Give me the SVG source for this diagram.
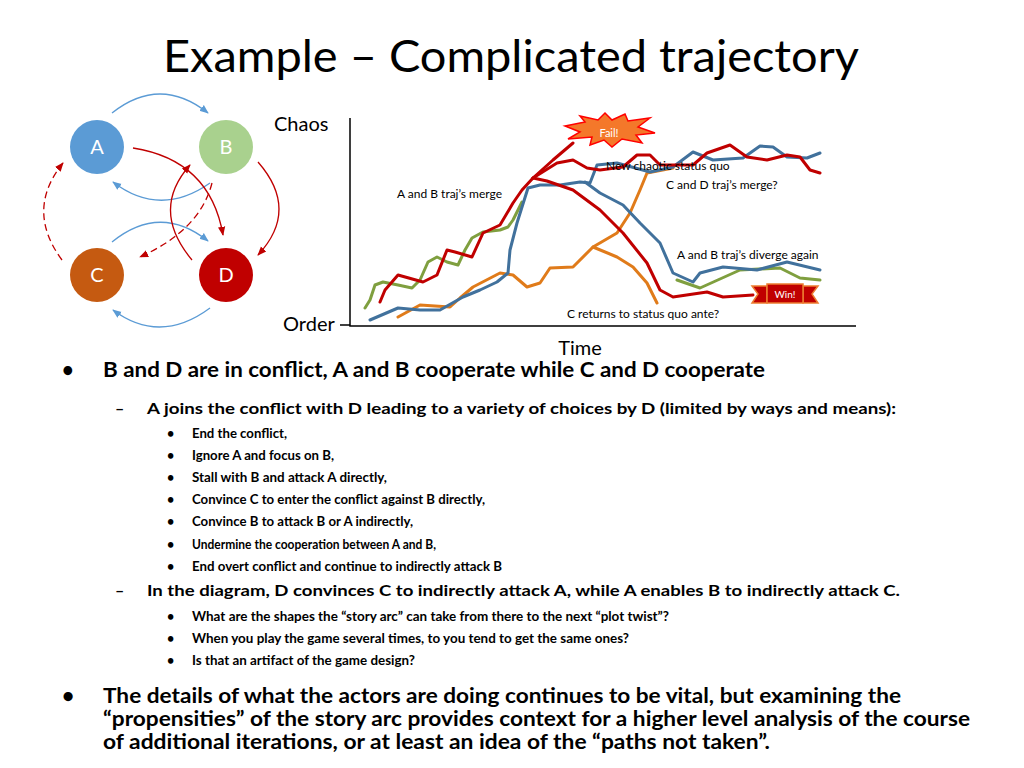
<svg xmlns="http://www.w3.org/2000/svg" width="1024" height="768" viewBox="0 0 1024 768">
<style>
text{font-family:Lato,"Open Sans","Liberation Sans",sans-serif;fill:#000}
.b{font-weight:bold}
.nl{fill:#fff;font-size:20px;text-anchor:middle}
.bl{fill:none;stroke:#5B9BD5;stroke-width:1.3}
.rd{fill:none;stroke:#C00000;stroke-width:1.3}
.ds{stroke-dasharray:7,4}
.cv{fill:none;stroke-width:3;stroke-linejoin:round;stroke-linecap:round}
.lb{font-size:12px}
</style>
<defs>
<marker id="ab" viewBox="0 0 10 10" refX="9" refY="5" markerWidth="7" markerHeight="7" orient="auto"><path d="M0,1L10,5L0,9z" fill="#5B9BD5"/></marker>
<marker id="ar" viewBox="0 0 10 10" refX="9" refY="5" markerWidth="7" markerHeight="7" orient="auto"><path d="M0,1L10,5L0,9z" fill="#C00000"/></marker>
</defs>
<rect width="1024" height="768" fill="#fff"/>
<text x="511" y="72" font-size="44" text-anchor="middle" textLength="696" lengthAdjust="spacingAndGlyphs">Example – Complicated trajectory</text>

<g id="connectors">
<path class="bl" d="M112,113 Q160,75 208,113" marker-end="url(#ab)"/>
<path class="bl" d="M210,183 Q160,218 113,182" marker-end="url(#ab)"/>
<path class="bl" d="M112,242 Q160,203 208,241" marker-end="url(#ab)"/>
<path class="bl" d="M210,308 Q160,345 113,310" marker-end="url(#ab)"/>
<path class="rd" d="M133,148 Q210,160 223,235" marker-end="url(#ar)"/>
<path class="rd" d="M258,162 Q300,210 258,255" marker-end="url(#ar)"/>
<path class="rd" d="M192,260 Q150,210 190,165" marker-end="url(#ar)"/>
<path class="rd ds" d="M62,260 Q25,210 63,163" marker-end="url(#ar)"/>
<path class="rd ds" d="M212,183 Q200,230 140,257" marker-end="url(#ar)"/>
</g>
<g id="node-A"><circle cx="97" cy="147" r="27" fill="#5B9BD5"/><text class="nl" x="97" y="154">A</text></g>
<g id="node-B"><circle cx="226" cy="147" r="27" fill="#A9D18E"/><text class="nl" x="226" y="154">B</text></g>
<g id="node-C"><circle cx="97" cy="275" r="27" fill="#C55A11"/><text class="nl" x="97" y="282">C</text></g>
<g id="node-D"><circle cx="226" cy="275" r="27" fill="#C00000"/><text class="nl" x="226" y="282">D</text></g>

<g id="chart">
<path d="M350,118 V326 H856" fill="none" stroke="#000" stroke-width="1.5"/>
<line x1="340" y1="325" x2="350" y2="325" stroke="#000" stroke-width="1.5"/>
<text x="274" y="131" font-size="20">Chaos</text>
<text x="283" y="331" font-size="20">Order</text>
<text x="580" y="355" font-size="20" text-anchor="middle">Time</text>
<path class="cv" stroke="#7F9F3F" d="M365,308 L370,300 375,285 383,282 398,285 412,288 420,280 428,262 437,257 447,262 458,265 465,250 472,238 483,232 500,230 508,227 513,220 522,202"/>
<path class="cv" stroke="#7F9F3F" d="M677,280 L700,288 740,270 780,268 800,278 820,280"/>
<path class="cv" stroke="#E07B1A" d="M398,317 L420,305 450,307 460,298 473,287 500,273 513,275 527,287 540,283 550,268 573,267 593,247 617,233 630,213 640,190 647,173 673,168"/>
<path class="cv" stroke="#E07B1A" d="M593,247 L617,257 633,267 647,283 657,303"/>
<path class="cv" stroke="#41719C" d="M370,320 L398,308 420,310 440,310 463,297 480,290 497,282 508,273 510,250 517,223 528,188 540,185 560,185 580,182 590,183 597,165 617,163 650,172 673,167 693,152 713,160 743,158 760,146 773,147 787,157 807,158 820,153"/>
<path class="cv" stroke="#41719C" d="M585,182 L600,193 623,205 640,223 660,243 673,273 693,282 700,273 723,267 757,270 787,262 820,270"/>
<path class="cv" stroke="#C00000" d="M380,302 L385,290 398,275 423,282 437,275 447,250 455,252 472,257 483,233 500,225 513,203 522,190 533,178 553,160 573,143"/>
<path class="cv" stroke="#C00000" d="M533,178 L557,163 573,160 587,168 600,170 623,167 637,155 650,155 660,165 693,165 707,153 730,145 747,157 767,160 787,155 800,157 810,170 820,173"/>
<path class="cv" stroke="#C00000" d="M533,178 L547,181 573,190 600,210 623,233 647,263 660,290 673,297 707,292 723,297 753,295"/>
<path d="M565,126 L585,122 580,116 598,120 605,113 612,120 625,114 628,121 650,118 638,127 655,133 636,135 642,143 622,139 612,147 604,140 590,145 592,137 568,139 580,132z" fill="#F4782A" stroke="#FF0000" stroke-width="1.5"/>
<text x="609" y="137" font-size="11" text-anchor="middle" style="fill:#fff">Fail!</text>
<path d="M752,286 L767,286 767,303 752,303 758,294z M818,286 L803,286 803,303 818,303 812,294z" fill="#C00000" stroke="#ED7D31" stroke-width="1.5"/>
<rect x="767" y="284" width="36" height="19" fill="#C00000" stroke="#ED7D31" stroke-width="1.5"/>
<text x="785" y="298" font-size="10" text-anchor="middle" style="fill:#fff">Win!</text>
<text class="lb" x="397" y="198">A and B traj’s merge</text>
<text class="lb" x="606" y="170">New chaotic status quo</text>
<text class="lb" x="666" y="189">C and D traj’s merge?</text>
<text class="lb" x="677" y="259">A and B traj’s diverge again</text>
<text class="lb" x="567" y="318">C returns to status quo ante?</text>
</g>

<g id="text" class="b">
<text x="62" y="377" font-size="20">•</text>
<text x="103" y="377" font-size="20" textLength="662" lengthAdjust="spacingAndGlyphs">B and D are in conflict, A and B cooperate while C and D cooperate</text>
<text x="115" y="414" font-size="16">–</text>
<text x="147" y="414" font-size="16" textLength="749" lengthAdjust="spacingAndGlyphs">A joins the conflict with D leading to a variety of choices by D (limited by ways and means):</text>
<g font-size="12.5">
<text x="167" y="438">•</text><text x="192" y="438" textLength="95" lengthAdjust="spacingAndGlyphs">End the conflict,</text>
<text x="167" y="460">•</text><text x="192" y="460" textLength="142" lengthAdjust="spacingAndGlyphs">Ignore A and focus on B,</text>
<text x="167" y="482">•</text><text x="192" y="482" textLength="195" lengthAdjust="spacingAndGlyphs">Stall with B and attack A directly,</text>
<text x="167" y="504">•</text><text x="192" y="504" textLength="293" lengthAdjust="spacingAndGlyphs">Convince C to enter the conflict against B directly,</text>
<text x="167" y="526">•</text><text x="192" y="526" textLength="221" lengthAdjust="spacingAndGlyphs">Convince B to attack B or A indirectly,</text>
<text x="167" y="549">•</text><text x="192" y="549" textLength="244" lengthAdjust="spacingAndGlyphs">Undermine the cooperation between A and B,</text>
<text x="167" y="571">•</text><text x="192" y="571" textLength="310" lengthAdjust="spacingAndGlyphs">End overt conflict and continue to indirectly attack B</text>
</g>
<text x="115" y="596" font-size="16">–</text>
<text x="147" y="596" font-size="16" textLength="753" lengthAdjust="spacingAndGlyphs">In the diagram, D convinces C to indirectly attack A, while A enables B to indirectly attack C.</text>
<g font-size="12.5">
<text x="167" y="621">•</text><text x="192" y="621" textLength="477" lengthAdjust="spacingAndGlyphs">What are the shapes the “story arc” can take from there to the next “plot twist”?</text>
<text x="167" y="643">•</text><text x="192" y="643" textLength="437" lengthAdjust="spacingAndGlyphs">When you play the game several times, to you tend to get the same ones?</text>
<text x="167" y="665">•</text><text x="192" y="665" textLength="223" lengthAdjust="spacingAndGlyphs">Is that an artifact of the game design?</text>
</g>
<text x="62" y="703" font-size="21">•</text>
<text x="103" y="703" font-size="21" textLength="798" lengthAdjust="spacingAndGlyphs">The details of what the actors are doing continues to be vital, but examining the</text>
<text x="103" y="726" font-size="21" textLength="867" lengthAdjust="spacingAndGlyphs">“propensities” of the story arc provides context for a higher level analysis of the course</text>
<text x="103" y="749" font-size="21" textLength="667" lengthAdjust="spacingAndGlyphs">of additional iterations, or at least an idea of the “paths not taken”.</text>
</g>
</svg>
